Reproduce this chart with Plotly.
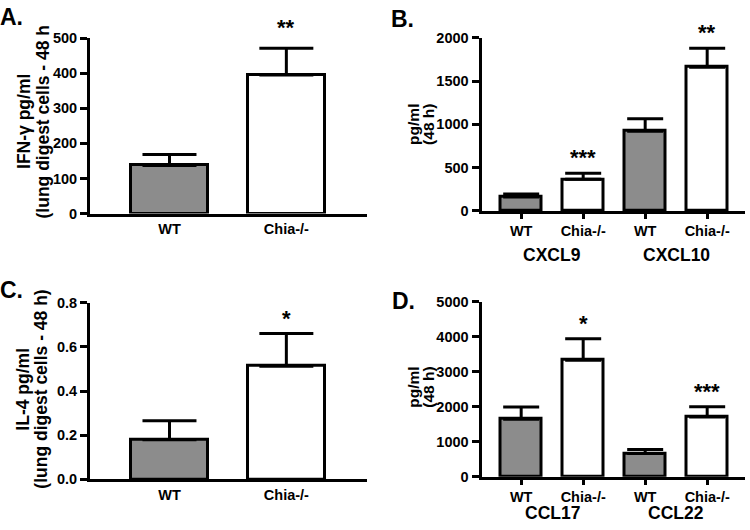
import plotly.graph_objects as go

# ---- data ----
a_cats = ["WT", "Chia-/-"]
a_vals = [137, 395]
a_errs = [31, 76]
a_stars = ["", "**"]

b_cats = ["WT", "Chia-/-", "WT", "Chia-/-"]
b_groups = ["CXCL9", "CXCL10"]
b_vals = [160, 365, 922, 1661]
b_errs = [37, 72, 142, 219]
b_stars = ["", "***", "", "**"]

c_cats = ["WT", "Chia-/-"]
c_vals = [0.179, 0.513]
c_errs = [0.086, 0.148]
c_stars = ["", "*"]

d_cats = ["WT", "Chia-/-", "WT", "Chia-/-"]
d_groups = ["CCL17", "CCL22"]
d_vals = [1645, 3328, 665, 1708]
d_errs = [345, 618, 110, 290]
d_stars = ["", "*", "", "***"]

a_title = ["IFN-γ pg/ml", "(lung digest cells - 48 h"]
b_title = ["pg/ml", "(48 h)"]
c_title = ["IL-4 pg/ml", "(lung digest cells - 48 h)"]
d_title = ["pg/ml", "(48 h)"]

GRAY = "#8c8c8c"
FONT = "Liberation Sans"
W, H = 750, 530

fig = go.Figure()

panels = [
    # name, cats, vals, errs, stars, x-domain px, y-domain px, y-range, dtick, x-range, cap width, x ticks, star shift
    ("1", a_cats, a_vals, a_errs, a_stars, (90, 367), (31, 212), [0, 500], 100, [-0.68, 1.69], 27, False, 6),
    ("2", b_cats, b_vals, b_errs, b_stars, (481.5, 745), (30.7, 209.3), [0, 2000], 500, [-0.64, 3.61], 18, True, 1),
    ("3", c_cats, c_vals, c_errs, c_stars, (90, 367), (304, 486), [0, 0.8], 0.2, [-0.68, 1.69], 27, False, 0),
    ("4", d_cats, d_vals, d_errs, d_stars, (481.5, 745), (303, 483.3), [0, 5000], 1000, [-0.64, 3.61], 18, True, 1),
]

annotations = []
for name, cats, vals, errs, stars, xd, yd, yr, dt, xr, capw, xt, sshift in panels:
    xs = list(range(len(cats)))
    colors = [GRAY if c == "WT" else "white" for c in cats]
    xa = "x" if name == "1" else "x" + name
    ya = "y" if name == "1" else "y" + name
    fig.add_trace(go.Bar(
        x=xs, y=vals, width=0.66, xaxis=xa, yaxis=ya,
        marker=dict(color=colors, line=dict(color="black", width=3)),
        error_y=dict(type="data", array=errs, arrayminus=[0] * len(errs), symmetric=False,
                     color="black", thickness=3, width=capw),
        showlegend=False, cliponaxis=False, hoverinfo="skip",
    ))
    key_x = "xaxis" if name == "1" else "xaxis" + name
    key_y = "yaxis" if name == "1" else "yaxis" + name
    fig.update_layout({
        key_x: dict(domain=[xd[0] / W, xd[1] / W], anchor=ya, range=xr,
                    tickvals=xs, ticktext=cats, showline=True, linewidth=3, linecolor="black",
                    ticks="outside" if xt else "", ticklen=5, tickwidth=3, tickcolor="black",
                    showgrid=False, zeroline=False,
                    tickfont=dict(family=FONT, size=14.5, color="black", weight="bold")),
        key_y: dict(domain=[1 - yd[1] / H, 1 - yd[0] / H], anchor=xa, range=yr, dtick=dt,
                    showline=True, linewidth=3, linecolor="black",
                    ticks="outside", ticklen=7, tickwidth=3, tickcolor="black",
                    showgrid=False, zeroline=False,
                    tickformat=".1f" if dt < 1 else "d",
                    tickfont=dict(family=FONT, size=14.5, color="black", weight="bold")),
    })
    for x, v, e, s in zip(xs, vals, errs, stars):
        if s:
            annotations.append(dict(x=x, y=v + e, xref=xa, yref=ya, text="<b>%s</b>" % s,
                                    showarrow=False, yanchor="bottom", yshift=sshift,
                                    font=dict(family=FONT, size=22, color="black")))

# group labels under the two-level categorical axes
for groups, xa, ypx in [(b_groups, "x2", 255), (d_groups, "x4", 521)]:
    for gi, g in enumerate(groups):
        annotations.append(dict(x=gi * 2 + 0.5, y=1 - ypx / H, xref=xa, yref="paper", text="<b>%s</b>" % g,
                                showarrow=False, yanchor="middle", borderpad=0,
                                font=dict(family=FONT, size=17.5, color="black")))

# y titles (one annotation per line)
ytitles = [
    (a_title, (24.5, 43), 117, 17.5),
    (b_title, (413.5, 428.5), 120, 15.5),
    (c_title, (23.5, 41.5), 393, 17.5),
    (d_title, (413.5, 428.5), 391, 15.5),
]
for lines, xps, yp, fs in ytitles:
    for t, xp in zip(lines, xps):
        annotations.append(dict(x=xp / W, y=1 - yp / H, xref="paper", yref="paper", text="<b>%s</b>" % t,
                                textangle=-90, showarrow=False, xanchor="center", yanchor="middle",
                                font=dict(family=FONT, size=fs, color="black")))

# panel labels
for lab, xp, yp in [("A.", -2, -6), ("B.", 389, -4), ("C.", -2, 275), ("D.", 390, 287)]:
    annotations.append(dict(x=xp / W, y=1 - yp / H, xref="paper", yref="paper", text="<b>%s</b>" % lab,
                            showarrow=False, xanchor="left", yanchor="top",
                            font=dict(family=FONT, size=23, color="black")))

fig.update_layout(
    width=W, height=H, margin=dict(l=0, r=0, t=0, b=0),
    paper_bgcolor="white", plot_bgcolor="white",
    annotations=annotations, bargap=0,
)

fig.write_html("out.html", config={"displayModeBar": False},
               post_script="document.body.style.margin='0';document.body.style.overflow='hidden';")
